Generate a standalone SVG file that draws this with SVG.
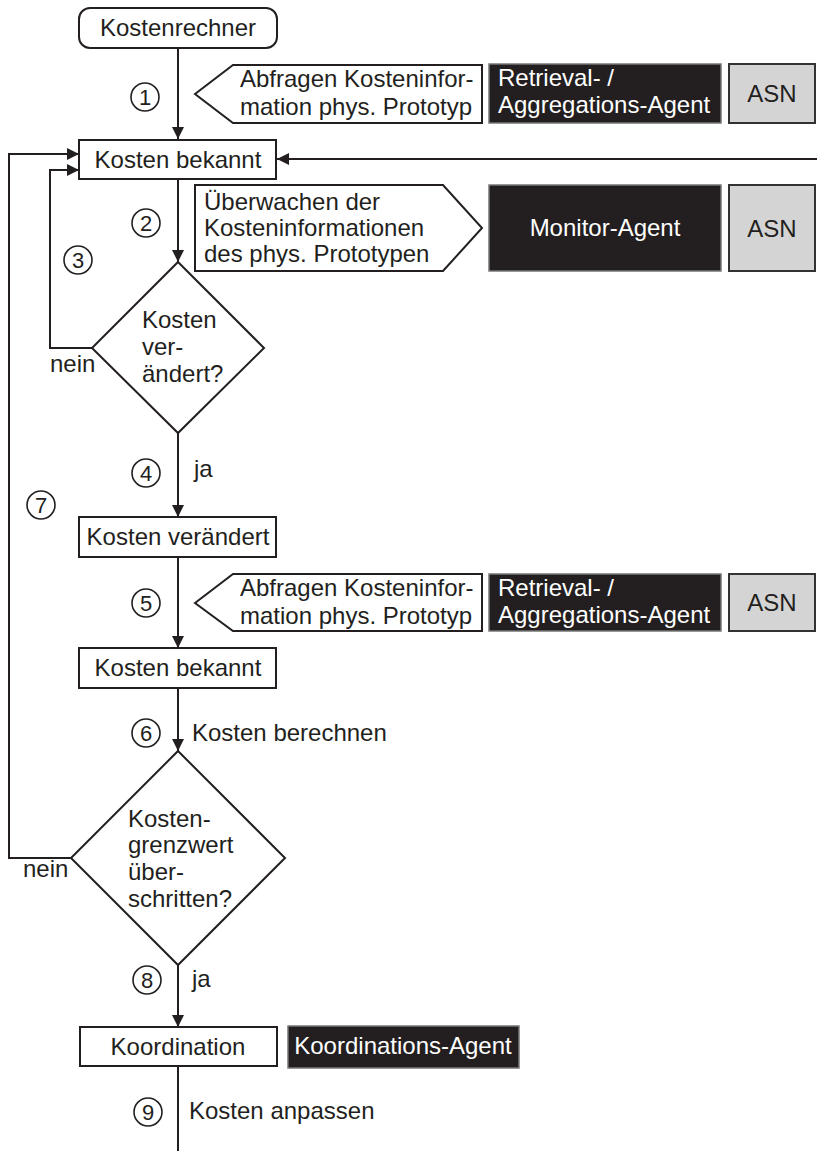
<svg xmlns="http://www.w3.org/2000/svg" width="817" height="1151" viewBox="0 0 817 1151">
  <style>
    text { font-family: "Liberation Sans", Arial, sans-serif; font-size: 24px; fill: #231f20; }
    .box { fill: #ffffff; stroke: #231f20; stroke-width: 2; }
    .agent { fill: #231f20; stroke: #777777; stroke-width: 1.5; }
    .agent-t { fill: #ffffff; }
    .asn { fill: #d4d4d4; stroke: #333333; stroke-width: 2; }
    .num { fill: none; stroke: #231f20; stroke-width: 1.6; }
    .num-t { font-size: 22px; text-anchor: middle; }
    .c { text-anchor: middle; }
    .edge { fill: none; stroke: #231f20; stroke-width: 2; }
  </style>
  <defs>
    <marker id="arrow" markerUnits="userSpaceOnUse" markerWidth="12" markerHeight="12" refX="12" refY="6" orient="auto">
      <path d="M0,0 L12,6 L0,12 z" fill="#231f20"/>
    </marker>
  </defs>

  <!-- connectors -->
  <g id="connectors">
    <path class="edge" d="M178,48 V139" marker-end="url(#arrow)"/>
    <path class="edge" d="M178,179 V262" marker-end="url(#arrow)"/>
    <path class="edge" d="M92,348 H50 V170 H79" marker-end="url(#arrow)"/>
    <path class="edge" d="M178,433 V517" marker-end="url(#arrow)"/>
    <path class="edge" d="M178,557 V648" marker-end="url(#arrow)"/>
    <path class="edge" d="M178,688 V751" marker-end="url(#arrow)"/>
    <path class="edge" d="M71,858 H9 V154 H79" marker-end="url(#arrow)"/>
    <path class="edge" d="M817,159 H277" marker-end="url(#arrow)"/>
    <path class="edge" d="M178,965 V1027" marker-end="url(#arrow)"/>
    <path class="edge" d="M178,1066 V1151"/>
  </g>

  <!-- step numbers and edge labels -->
  <g id="labels">
    <circle class="num" cx="145" cy="97" r="14"/><text class="num-t" x="145" y="105">1</text>
    <circle class="num" cx="146" cy="223" r="14"/><text class="num-t" x="146" y="231">2</text>
    <circle class="num" cx="78" cy="260" r="14"/><text class="num-t" x="78" y="268">3</text>
    <circle class="num" cx="146" cy="473" r="14"/><text class="num-t" x="146" y="481">4</text>
    <circle class="num" cx="41" cy="505" r="14"/><text class="num-t" x="41" y="513">7</text>
    <circle class="num" cx="146" cy="603" r="14"/><text class="num-t" x="146" y="611">5</text>
    <circle class="num" cx="146" cy="733" r="14"/><text class="num-t" x="146" y="741">6</text>
    <circle class="num" cx="147" cy="980" r="14"/><text class="num-t" x="147" y="988">8</text>
    <circle class="num" cx="148" cy="1112" r="14"/><text class="num-t" x="148" y="1120">9</text>
    <text x="50" y="372">nein</text>
    <text x="23" y="877">nein</text>
    <text x="194" y="477">ja</text>
    <text x="192" y="987">ja</text>
    <text x="192" y="741">Kosten berechnen</text>
    <text x="189" y="1119">Kosten anpassen</text>
  </g>

  <!-- process nodes -->
  <g id="start">
    <rect class="box" x="79" y="8" width="198" height="40" rx="11"/>
    <text class="c" x="178" y="36">Kostenrechner</text>
  </g>
  <g id="known1">
    <rect class="box" x="79" y="140" width="197" height="39"/>
    <text class="c" x="178" y="168">Kosten bekannt</text>
  </g>
  <g id="decision1">
    <polygon class="box" points="178,262 264,348 178,433 92,348"/>
    <text x="142" y="328">Kosten</text>
    <text x="142" y="355">ver-</text>
    <text x="142" y="382">ändert?</text>
  </g>
  <g id="changed">
    <rect class="box" x="79" y="517" width="197" height="40"/>
    <text class="c" x="178" y="545">Kosten verändert</text>
  </g>
  <g id="known2">
    <rect class="box" x="79" y="648" width="197" height="40"/>
    <text class="c" x="178" y="676">Kosten bekannt</text>
  </g>
  <g id="decision2">
    <polygon class="box" points="178,751 285,858 178,965 71,858"/>
    <text x="128" y="827">Kosten-</text>
    <text x="128" y="853">grenzwert</text>
    <text x="128" y="880">über-</text>
    <text x="128" y="907">schritten?</text>
  </g>
  <g id="coordination">
    <rect class="box" x="80" y="1027" width="197" height="39"/>
    <text class="c" x="178" y="1055">Koordination</text>
  </g>

  <!-- row 1: query -->
  <g id="query1">
    <polygon class="box" points="195,94 233,65 482,65 482,123 233,123"/>
    <text x="240" y="87">Abfragen Kosteninfor-</text>
    <text x="240" y="115">mation phys. Prototyp</text>
  </g>
  <g id="agent1">
    <rect class="agent" x="489" y="64" width="232" height="59"/>
    <text class="agent-t" x="498" y="86">Retrieval- /</text>
    <text class="agent-t" x="498" y="113">Aggregations-Agent</text>
  </g>
  <g id="asn1">
    <rect class="asn" x="729" y="64" width="86" height="59"/>
    <text class="c" x="772" y="102">ASN</text>
  </g>

  <!-- row 2: monitoring -->
  <g id="monitor">
    <polygon class="box" points="195,185 443,185 482,228 443,271 195,271"/>
    <text x="204" y="210">Überwachen der</text>
    <text x="204" y="236">Kosteninformationen</text>
    <text x="204" y="262">des phys. Prototypen</text>
  </g>
  <g id="agent2">
    <rect class="agent" x="489" y="185" width="232" height="86"/>
    <text class="agent-t c" x="605" y="236">Monitor-Agent</text>
  </g>
  <g id="asn2">
    <rect class="asn" x="729" y="185" width="86" height="86"/>
    <text class="c" x="772" y="237">ASN</text>
  </g>

  <!-- row 3: query -->
  <g id="query2">
    <polygon class="box" points="195,603 233,574 482,574 482,631 233,631"/>
    <text x="240" y="596">Abfragen Kosteninfor-</text>
    <text x="240" y="624">mation phys. Prototyp</text>
  </g>
  <g id="agent3">
    <rect class="agent" x="489" y="574" width="232" height="57"/>
    <text class="agent-t" x="498" y="596">Retrieval- /</text>
    <text class="agent-t" x="498" y="623">Aggregations-Agent</text>
  </g>
  <g id="asn3">
    <rect class="asn" x="729" y="574" width="86" height="57"/>
    <text class="c" x="772" y="611">ASN</text>
  </g>

  <!-- coordination agent -->
  <g id="agent4">
    <rect class="agent" x="288" y="1026" width="231" height="42"/>
    <text class="agent-t c" x="403" y="1054">Koordinations-Agent</text>
  </g>
</svg>
